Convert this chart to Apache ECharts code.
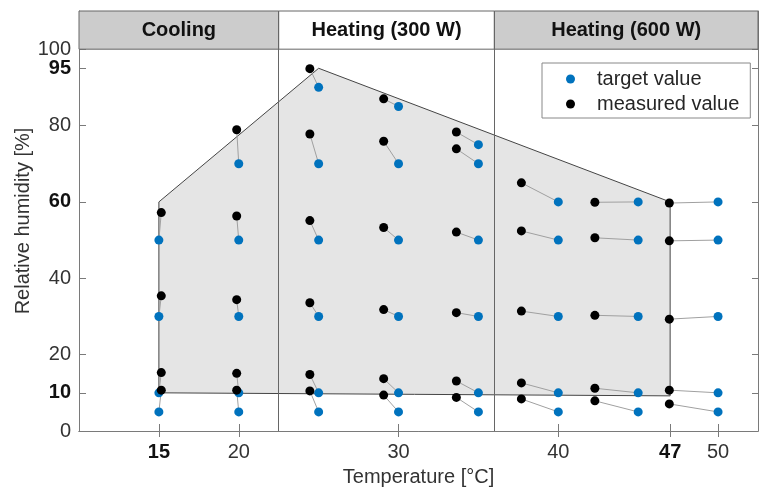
<!DOCTYPE html>
<html>
<head>
<meta charset="utf-8">
<script src="https://cdn.jsdelivr.net/npm/echarts@6/dist/echarts.min.js"></script>
<style>html,body{margin:0;padding:0;background:#fff}#c{width:759px;height:493px}</style>
</head>
<body>
<div id="c"></div>
<script>
// ---- data ----
const xTicks = [15, 20, 30, 40, 47, 50];
const xBold = [15, 47];
const yTicks = [0, 10, 20, 40, 60, 80, 95, 100];
const yBold = [10, 60, 95];

const headerLabels = ['Cooling', 'Heating (300 W)', 'Heating (600 W)'];
const headerBounds = [10, 22.5, 36, 52.5];

// operating envelope polygon
const polyT  = [15, 25, 47, 47, 15];
const polyRH = [60, 95, 60, 9.2, 10];

// target values (blue)
const targetT  = [15,15,15,15, 20,20,20,20,20, 25,25,25,25,25,25, 30,30,30,30,30,30, 35,35,35,35,35,35, 40,40,40,40,40, 45,45,45,45,45, 50,50,50,50,50];
const targetRH = [50,30,10,5, 70,50,30,10,5, 90,70,50,30,10,5, 85,70,50,30,10,5, 75,70,50,30,10,5, 60,50,30,10,5, 60,50,30,10,5, 60,50,30,10,5];

// measured values (black), same order as targets
const measT  = [15.15,15.15,15.15,15.15, 19.87,19.87,19.87,19.87,19.87, 24.45,24.45,24.45,24.45,24.45,24.45, 29.07,29.07,29.07,29.07,29.07,29.07, 33.62,33.62,33.62,33.62,33.62,33.62, 37.69,37.69,37.69,37.69,37.69, 42.29,42.29,42.29,42.29,42.29, 46.95,46.95,46.95,46.95,46.95];
const measRH = [57.2,35.4,15.3,10.7, 78.9,56.3,34.4,15.1,10.7, 94.9,77.8,55.1,33.6,14.8,10.5, 87.0,75.9,53.3,31.8,13.7,9.4, 78.3,73.9,52.1,31.0,13.1,8.8, 65.0,52.4,31.4,12.6,8.4, 59.9,50.6,30.3,11.2,7.9, 59.7,49.8,29.3,10.7,7.1];

// ---- chart ----
const FONT = 'Liberation Sans, Arial, Helvetica, sans-serif';
const AX = '#7a7a7a';
const chart = echarts.init(document.getElementById('c'), null, {renderer: 'canvas'});

const fmt = (bold) => (v) => bold.includes(v) ? '{b|' + v + '}' : '' + v;
const rich = {b: {fontWeight: 'bold', fontSize: 20, color: '#111', fontFamily: FONT}};

const headerAreas = headerLabels.map((name, i) => [
  {name: name, xAxis: headerBounds[i], yAxis: 100, itemStyle: {color: i === 1 ? '#ffffff' : '#cccccc'}},
  {xAxis: headerBounds[i + 1], yAxis: 110}
]);

const pairLines = targetT.map((t, i) => ({coords: [[measT[i], measRH[i]], [t, targetRH[i]]]}));

// the top label is put on its own (label-only) axis so both 95 and 100 are shown
const yLabelsMain = yTicks.slice(0, -1);
const yLabelsTop = yTicks.slice(-1);

chart.setOption({
  animation: false,
  textStyle: {fontFamily: FONT},
  grid: {left: 79, right: 1, top: 11, bottom: 62, containLabel: false, outerBoundsMode: 'none'},
  legend: {
    data: ['target value', 'measured value'],
    orient: 'vertical',
    left: 542, top: 63,
    backgroundColor: '#fff',
    borderColor: '#888', borderWidth: 1,
    padding: [6, 11, 4, 24],
    itemWidth: 9, itemHeight: 9, itemGap: 5,
    icon: 'circle',
    textStyle: {fontSize: 20, color: '#262626', fontFamily: FONT, lineHeight: 20, padding: [0, 0, 0, 17]}
  },
  xAxis: [{
    type: 'value', min: 10, max: 52.5, position: 'bottom',
    name: 'Temperature [°C]', nameLocation: 'middle', nameGap: 36, nameMoveOverlap: false,
    nameTextStyle: {fontSize: 20, color: '#333', fontFamily: FONT},
    axisLine: {show: true, lineStyle: {color: AX, width: 1}},
    axisTick: {show: true, inside: true, length: 7, lineStyle: {color: AX}, customValues: xTicks},
    axisLabel: {show: true, hideOverlap: false, showMinLabel: true, showMaxLabel: true, customValues: xTicks, formatter: fmt(xBold), rich: rich, fontSize: 20, color: '#333', margin: 11},
    splitLine: {show: false}
  }, {
    type: 'value', min: 10, max: 52.5, position: 'top',
    axisLine: {show: true, lineStyle: {color: AX, width: 1}},
    axisTick: {show: true, inside: true, length: 6, lineStyle: {color: AX}, customValues: xTicks},
    axisLabel: {show: false},
    splitLine: {show: false}
  }],
  yAxis: [{
    type: 'value', min: 0, max: 110, position: 'left',
    name: 'Relative humidity [%]', nameLocation: 'middle', nameGap: 46, nameMoveOverlap: false,
    nameTextStyle: {fontSize: 20, color: '#333', fontFamily: FONT},
    axisLine: {show: true, lineStyle: {color: AX, width: 1}},
    axisTick: {show: true, inside: true, length: 7, lineStyle: {color: AX}, customValues: yTicks},
    axisLabel: {show: true, hideOverlap: false, showMinLabel: true, showMaxLabel: true, customValues: yLabelsMain, formatter: fmt(yBold), rich: rich, fontSize: 20, color: '#333', margin: 8},
    splitLine: {show: false}
  }, {
    type: 'value', min: 0, max: 110, position: 'right',
    axisLine: {show: true, lineStyle: {color: AX, width: 1}},
    axisTick: {show: true, inside: true, length: 6, lineStyle: {color: AX}, customValues: yTicks},
    axisLabel: {show: false},
    splitLine: {show: false}
  }, {
    type: 'value', min: 0, max: 110, position: 'left', offset: 0,
    axisLine: {show: false},
    axisTick: {show: false},
    axisLabel: {show: true, hideOverlap: false, showMinLabel: true, showMaxLabel: true, customValues: yLabelsTop, formatter: fmt(yBold), rich: rich, fontSize: 20, color: '#333', margin: 8},
    splitLine: {show: false}
  }],
  series: [{
    type: 'custom',
    z: 1,
    data: polyT.map((t, i) => [t, polyRH[i]]),
    renderItem: function (params, api) {
      if (params.dataIndex !== 0) return null;
      const pts = polyT.map((t, i) => api.coord([t, polyRH[i]]));
      return {type: 'polygon', shape: {points: pts}, style: {fill: '#e5e5e5', stroke: '#444', lineWidth: 1}};
    },
    markArea: {
      silent: true,
      itemStyle: {borderColor: '#666', borderWidth: 1},
      label: {show: true, position: 'inside', fontSize: 20, fontWeight: 'bold', color: '#111', fontFamily: FONT},
      data: headerAreas
    },
    markLine: {
      silent: true,
      symbol: 'none',
      label: {show: false},
      lineStyle: {color: '#666', width: 1, type: 'solid'},
      data: headerBounds.slice(1, -1).map(b => ({xAxis: b}))
    }
  }, {
    type: 'lines',
    coordinateSystem: 'cartesian2d',
    z: 2,
    silent: true,
    lineStyle: {color: '#a0a0a0', width: 1, opacity: 1},
    data: pairLines
  }, {
    name: 'target value',
    type: 'scatter',
    z: 3,
    symbol: 'circle', symbolSize: 9,
    itemStyle: {color: '#0072BD', opacity: 1},
    data: targetT.map((t, i) => [t, targetRH[i]])
  }, {
    name: 'measured value',
    type: 'scatter',
    z: 4,
    symbol: 'circle', symbolSize: 9,
    itemStyle: {color: '#000000', opacity: 1},
    data: measT.map((t, i) => [t, measRH[i]])
  }]
});
</script>
</body>
</html>
